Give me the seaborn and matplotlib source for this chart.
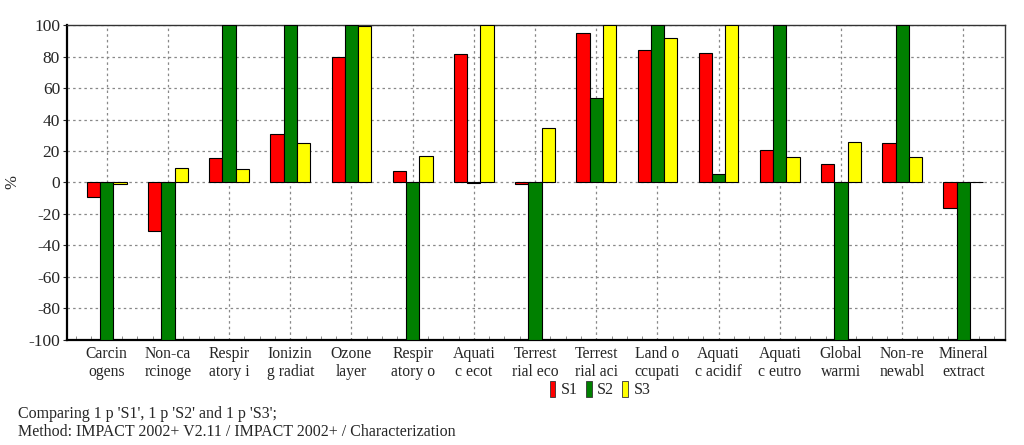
import pandas as pd
import matplotlib.pyplot as plt
import seaborn as sns
from matplotlib.ticker import MultipleLocator

# --- Data ---
categories = ['Carcin\nogens', 'Non-ca\nrcinoge', 'Respir\natory i', 'Ionizin\ng radiat',
              'Ozone\nlayer', 'Respir\natory o', 'Aquati\nc ecot', 'Terrest\nrial eco',
              'Terrest\nrial aci', 'Land o\nccupati', 'Aquati\nc acidif', 'Aquati\nc eutro',
              'Global\nwarmi', 'Non-re\nnewabl', 'Mineral\nextract']
s1 = [-9.5, -31, 15.3, 31, 80, 7, 81.5, -1, 95, 84, 82, 20.5, 11.5, 25, -16]
s2 = [-100, -100, 100, 100, 100, -100, -0.5, -100, 53.5, 100, 5.7, 100, -100, 100, -100]
s3 = [-1, 9.5, 8.3, 25, 99.5, 17, 100, 34.5, 100, 92, 100, 16, 25.5, 16.5, 0.3]
series = ['S1', 'S2', 'S3']
colors = ['#ff0000', '#008000', '#ffff00']

df = pd.DataFrame({'Category': categories * 3,
                   'Value': s1 + s2 + s3,
                   'Series': [s for s in series for _ in categories]})

# --- Plot ---
sns.set_style('white')
plt.rcParams['font.family'] = ['Liberation Serif', 'DejaVu Serif']
plt.rcParams['axes.unicode_minus'] = False

fig = plt.figure(figsize=(10.24, 4.45), dpi=100)
ax = fig.add_axes([0.0654, 0.236, 0.9160, 0.7078])

sns.barplot(data=df, x='Category', y='Value', hue='Series', palette=colors,
            saturation=1, width=0.65, edgecolor='black', linewidth=0.8, ax=ax,
            legend=False, zorder=3)

ax.set_xlim(-0.65, 14.68)
ax.set_ylim(-100, 100)
ax.yaxis.set_major_locator(MultipleLocator(20))
ax.xaxis.set_minor_locator(MultipleLocator(0.25))
ax.grid(True, which='major', color='#888888', linestyle=(0, (2, 2.5)), linewidth=0.9, zorder=0)
ax.set_axisbelow(True)

ax.tick_params(axis='x', which='major', length=0, labelsize=11.3, pad=4)
ax.tick_params(axis='x', which='minor', length=3, direction='in', color='#777777', bottom=True)
ax.tick_params(axis='y', which='major', length=3, labelsize=12.5, left=True, pad=2)
ax.set_xlabel('')
ax.set_ylabel('%', fontsize=12)
ax.yaxis.set_label_coords(-0.05, 0.5)

for side in ['left', 'bottom']:
    ax.spines[side].set_linewidth(1.6)
    ax.spines[side].set_color('black')
for side in ['top', 'right']:
    ax.spines[side].set_linewidth(1.0)
    ax.spines[side].set_color('#333333')

handles = [plt.Rectangle((0, 0), 1, 1, facecolor=c, edgecolor='#333333', linewidth=0.6)
           for c in colors]
fig.legend(handles, series, loc='center', bbox_to_anchor=(0.586, 0.124), ncol=3,
           frameon=False, fontsize=11.5, handlelength=0.35, handleheight=1.1,
           handletextpad=0.35, columnspacing=0.5)

fig.text(0.0176, 0.07, "Comparing 1 p 'S1', 1 p 'S2' and 1 p 'S3';", fontsize=11.5, va='center')
fig.text(0.0176, 0.029, "Method: IMPACT 2002+ V2.11 / IMPACT 2002+ / Characterization",
         fontsize=11.5, va='center')

fig.savefig('out.png', dpi=100)
